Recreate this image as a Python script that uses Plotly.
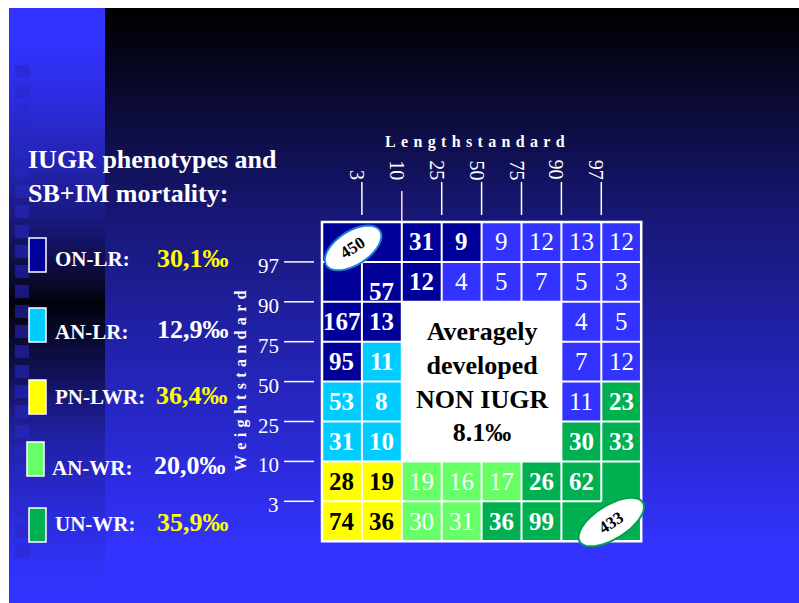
import numpy as np
import plotly.graph_objects as go

W, H = 799, 603

# ---------------------------------------------------------------- data
# percentile boundaries of the two standards (length across, weight down)
length_bounds = ["3", "10", "25", "50", "75", "90", "97"]
weight_bounds = ["3", "10", "25", "50", "75", "90", "97"]

# phenotype of each length x weight cell, rows from the top (>97 weight) down
# ON=ON-LR  AN=AN-LR  PN=PN-LWR  AW=AN-WR  UN=UN-WR  BL=above average  AV=averagely developed
phenotype_rows = [
    ["ON", "ON", "ON", "ON", "BL", "BL", "BL", "BL"],
    ["ON", "ON", "ON", "BL", "BL", "BL", "BL", "BL"],
    ["ON", "ON", "AV", "AV", "AV", "AV", "BL", "BL"],
    ["ON", "AN", "AV", "AV", "AV", "AV", "BL", "BL"],
    ["AN", "AN", "AV", "AV", "AV", "AV", "BL", "UN"],
    ["AN", "AN", "AV", "AV", "AV", "AV", "UN", "UN"],
    ["PN", "PN", "AW", "AW", "AW", "UN", "UN", "UN"],
    ["PN", "PN", "AW", "AW", "UN", "UN", "UN", "UN"],
]

# SB+IM deaths per cell, same layout
count_rows = [
    [None, None, 31, 9, 9, 12, 13, 12],
    [None, 57, 12, 4, 5, 7, 5, 3],
    [167, 13, None, None, None, None, 4, 5],
    [95, 11, None, None, None, None, 7, 12],
    [53, 8, None, None, None, None, 11, 23],
    [31, 10, None, None, None, None, 30, 33],
    [28, 19, 19, 16, 17, 26, 62, None],
    [74, 36, 30, 31, 36, 99, None, None],
]

# pooled corner cells: total and the cells (row from top, column) they cover
pooled_totals = [450, 433]
pooled_cells = [[(0, 0), (0, 1)], [(6, 7), (7, 6), (7, 7)]]

average_label = "Averagely<br>developed<br>NON IUGR<br>8.1‰"

legend_codes = ["ON", "AN", "PN", "AW", "UN"]
legend_labels = ["ON-LR:", "AN-LR:", "PN-LWR:", "AN-WR:", "UN-WR:"]
legend_rates = ["30,1‰", "12,9‰", "36,4‰", "20,0‰", "35,9‰"]

# ---------------------------------------------------------------- styles
phen_order = ["ON", "BL", "AN", "PN", "AW", "UN", "AV"]
phen_colors = {"ON": "#000099", "BL": "#3333ff", "AN": "#00ccff", "PN": "#ffff00",
               "AW": "#66ff66", "UN": "#00b050", "AV": "#ffffff"}
regular_weight = {"BL", "AW"}
rate_colors = ["#ffff00", "#ffffff", "#ffff00", "#ffffff", "#ffff00"]
SERIF = "Liberation Serif"

def px(x):
    return x / W

def py(y):
    return 1 - y / H

n = len(phenotype_rows)
rows_up = phenotype_rows[::-1]          # heatmap row 0 = lowest weight band
counts_up = count_rows[::-1]

# ---------------------------------------------------------------- page background
fig = go.Figure()

# main slide gradient (dark top to blue bottom) and left strip gradient
main_stops = [(8, 0.0), (33, 0.05), (100, 0.20), (167, 0.35), (213, 0.46), (313, 0.62),
              (413, 0.78), (513, 0.94), (550, 1.0), (603, 1.0)]
strip_stops = [(8, 1.0), (40, 1.0), (100, 0.88), (167, 0.69), (233, 0.44), (293, 0.12),
               (302, 0.05), (367, 0.31), (433, 0.63), (500, 0.82), (567, 0.97), (603, 1.0)]

def gradient_scale(stops):
    return [[(y - 8) / (H - 8), "rgb(%d,%d,%d)" % (51 * t, 51 * t, 255 * t)] for y, t in stops]

yy = np.arange(8, H + 1)
zcol = ((yy[:-1] + 0.5)).reshape(-1, 1)
for x_edges, stops in (([105, W], main_stops), ([9, 105], strip_stops)):
    fig.add_trace(go.Heatmap(
        x=x_edges, y=yy, z=zcol, zmin=8, zmax=H, colorscale=gradient_scale(stops),
        showscale=False, hoverinfo="skip", xaxis="x", yaxis="y"))

# ---------------------------------------------------------------- grid of cells
code_up = [[phen_order.index(c) for c in row] for row in rows_up]
k = len(phen_order)
cscale = []
for i, p in enumerate(phen_order):
    cscale.append([i / k, phen_colors[p]])
    cscale.append([(i + 1) / k, phen_colors[p]])
fig.add_trace(go.Heatmap(
    x=list(range(n)), y=list(range(n)), z=code_up, zmin=-0.5, zmax=k - 0.5,
    colorscale=cscale, showscale=False, hoverinfo="skip", xaxis="x2", yaxis="y2"))

CELL = 39.9
GX0, GY0 = 322, 222
PAD = 0.3
gx1 = GX0 + n * CELL
gy1 = GY0 + n * CELL

shapes = []
annotations = []

def note(**kw):
    kw.setdefault("showarrow", False)
    kw.setdefault("xanchor", "center")
    kw.setdefault("yanchor", "middle")
    annotations.append(kw)

# decorative squares down the left strip
for i in range(25):
    y0 = 65 + 20 * i
    shapes.append(dict(type="rect", xref="paper", yref="paper", x0=px(15), x1=px(29),
                       y0=py(y0), y1=py(y0 + 13), line=dict(width=0),
                       fillcolor="rgba(40,40,200,0.55)", layer="above"))

# white cell borders, skipping edges inside pooled cells
group = {}
for gi, cells in enumerate(pooled_cells):
    for (r, c) in cells:
        group[(n - 1 - r, c)] = gi

def same_group(a, b):
    return a in group and b in group and group[a] == group[b]

segs = []
for r in range(n):
    for c in range(n - 1):
        if not same_group((r, c), (r, c + 1)):
            segs.append("M%.3f,%.3f L%.3f,%.3f" % (c + 0.5, r - 0.5, c + 0.5, r + 0.5))
for r in range(n - 1):
    for c in range(n):
        if not same_group((r, c), (r + 1, c)):
            segs.append("M%.3f,%.3f L%.3f,%.3f" % (c - 0.5, r + 0.5, c + 0.5, r + 0.5))
shapes.append(dict(type="path", xref="x2", yref="y2", path=" ".join(segs),
                   line=dict(color="white", width=2)))
shapes.append(dict(type="rect", xref="x2", yref="y2", x0=-0.5, x1=n - 0.5, y0=-0.5, y1=n - 0.5,
                   line=dict(color="white", width=2.5)))

# cell counts
for r in range(n):
    for c in range(n):
        v = counts_up[r][c]
        if v is None:
            continue
        p = rows_up[r][c]
        txt = str(v) if p in regular_weight else "<b>%d</b>" % v
        note(x=c, y=r, xref="x2", yref="y2", text=txt,
             yshift=-10 if v == 57 and c == 1 else 0,
             font=dict(family=SERIF, size=25, color="black" if p == "PN" else "white"))

# pooled corner totals in rotated ovals
ovals = [dict(cx=0.28, cy=6.85, a=0.80, b=0.42, ang=33, edge="#1a7fd0"),
         dict(cx=6.75, cy=-0.02, a=0.93, b=0.42, ang=32, edge="#00a050")]
t = np.linspace(0, 2 * np.pi, 73)
for total, ov in zip(pooled_totals, ovals):
    th = np.radians(ov["ang"])
    xs = ov["cx"] + ov["a"] * np.cos(th) * np.cos(t) - ov["b"] * np.sin(th) * np.sin(t)
    ys = ov["cy"] + ov["a"] * np.sin(th) * np.cos(t) + ov["b"] * np.cos(th) * np.sin(t)
    path = "M" + " L".join("%.4f,%.4f" % (a, b) for a, b in zip(xs, ys)) + " Z"
    shapes.append(dict(type="path", xref="x2", yref="y2", path=path, fillcolor="white",
                       line=dict(color=ov["edge"], width=2)))
    note(x=ov["cx"], y=ov["cy"], xref="x2", yref="y2", text="<b>%d</b>" % total,
         textangle=-ov["ang"], font=dict(family=SERIF, size=17, color="black"))

# label for the averagely developed block
note(x=3.5, y=3.5, xref="x2", yref="y2", text="<b>%s</b>" % average_label, align="center",
     font=dict(family=SERIF, size=26, color="black"))

# length percentile ticks (top)
for i, lab in enumerate(length_bounds):
    top, bot, col = (191, GY0, "#ffe4e4") if lab == "10" else (182, 215, "white")
    shapes.append(dict(type="line", xref="x2", yref="paper", x0=i + 0.5, x1=i + 0.5,
                       y0=py(top), y1=py(bot), line=dict(color=col, width=1.5)))
    note(x=i + 0.5, y=py(182), xref="x2", yref="paper", text=lab, textangle=90,
         xshift=-5, yanchor="bottom", font=dict(family=SERIF, size=20, color="white"))

# weight percentile ticks (left)
for i, lab in enumerate(weight_bounds):
    shapes.append(dict(type="line", xref="paper", yref="y2", x0=px(284), x1=px(314),
                       y0=i + 0.5, y1=i + 0.5, line=dict(color="white", width=1.5)))
    note(x=px(281), y=i + 0.5, xref="paper", yref="y2", text=lab, xanchor="right",
         yshift=-4, font=dict(family=SERIF, size=21, color="white"))

SP = "\u2004"
note(x=px(475), y=py(142), xref="paper", yref="paper",
     text="<b>%s</b>" % SP.join("Lengthstandard"),
     font=dict(family=SERIF, size=16, color="white"))
note(x=px(241), y=py(381), xref="paper", yref="paper",
     text="<b>%s</b>" % SP.join("Weightstandard"), textangle=-90,
     font=dict(family=SERIF, size=16, color="white"))

# title
note(x=px(26), y=py(176), xref="paper", yref="paper", xanchor="left",
     text="<b>IUGR phenotypes and<br>SB+IM mortality:</b>", align="left",
     font=dict(family=SERIF, size=26, color="white"))

# phenotype key
box_x = [29, 29, 29, 27, 29]
box_top = [238, 308, 380, 442, 508]
label_x = [53, 53, 53, 50, 53]
label_y = [259, 332, 397, 468, 524]
rate_x = [155, 155, 154, 152, 155]
rate_y = [258, 330, 395, 465, 522]
for i, code in enumerate(legend_codes):
    shapes.append(dict(type="rect", xref="paper", yref="paper", x0=px(box_x[i]),
                       x1=px(box_x[i] + 17), y0=py(box_top[i]), y1=py(box_top[i] + 34),
                       fillcolor=phen_colors[code], line=dict(color="white", width=1.5)))
    note(x=px(label_x[i]), y=py(label_y[i]), xref="paper", yref="paper", xanchor="left",
         text="<b>%s</b>" % legend_labels[i], font=dict(family=SERIF, size=21, color="white"))
    note(x=px(rate_x[i]), y=py(rate_y[i]), xref="paper", yref="paper", xanchor="left",
         text="<b>%s</b>" % legend_rates[i], font=dict(family=SERIF, size=26, color=rate_colors[i]))

fig.update_layout(
    width=W, height=H, margin=dict(l=0, r=0, t=0, b=0),
    paper_bgcolor="white", plot_bgcolor="rgba(0,0,0,0)", showlegend=False,
    xaxis=dict(domain=[0, 1], range=[0, W], visible=False, fixedrange=True),
    yaxis=dict(domain=[0, 1], range=[H, 0], visible=False, fixedrange=True),
    xaxis2=dict(domain=[px(GX0 - PAD * CELL), px(gx1 + PAD * CELL)],
                range=[-0.5 - PAD, n - 0.5 + PAD], visible=False, fixedrange=True),
    yaxis2=dict(domain=[py(gy1 + PAD * CELL), py(GY0 - PAD * CELL)],
                range=[-0.5 - PAD, n - 0.5 + PAD], visible=False, fixedrange=True),
    shapes=shapes, annotations=annotations,
)

fig.write_html("out.html")
